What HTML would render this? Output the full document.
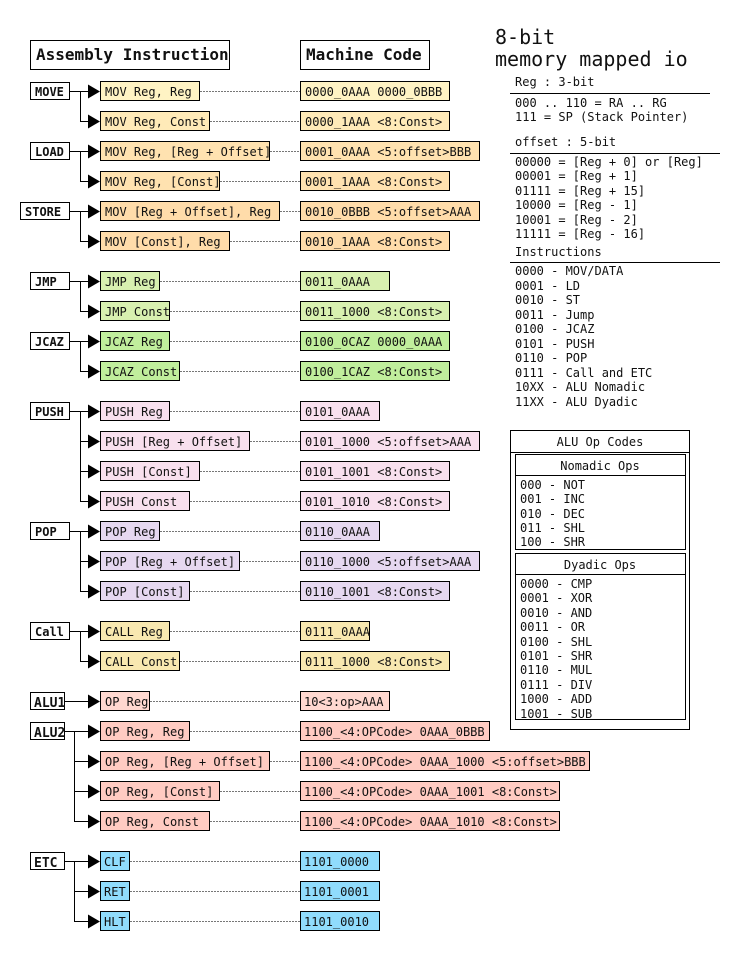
<!DOCTYPE html>
<html><head><meta charset="utf-8"><style>
html,body{margin:0;padding:0;background:#fff;}
svg{display:block;}
text{font-family:"DejaVu Sans Mono","Liberation Mono",monospace;font-size:12px;fill:#111;}
.b{font-weight:bold;}
.h{font-weight:bold;font-size:16px;}
.d{stroke:#777;stroke-width:1;stroke-dasharray:2,1;}
.r{stroke:#000;stroke-width:1;}
</style></head><body>
<svg width="740" height="960" viewBox="0 0 740 960" xmlns="http://www.w3.org/2000/svg">
<defs>
<path id="ar" d="M88,-7 L100,0 L88,7 Z" fill="#000"/>
</defs>
<!-- headers -->
<rect x="30.5" y="40.5" width="199" height="29" fill="#fff" class="r"/>
<text x="36" y="60" class="h">Assembly Instruction</text>
<rect x="300.5" y="40.5" width="129" height="29" fill="#fff" class="r"/>
<text x="306" y="60" class="h">Machine Code</text>

<g id="rows">
<!-- group label boxes -->
<rect x="30.5" y="82.5" width="39" height="17" fill="#fff" class="r"/><text x="35" y="96" class="b">MOVE</text>
<rect x="30.5" y="142.5" width="39" height="17" fill="#fff" class="r"/><text x="35" y="156" class="b">LOAD</text>
<rect x="20.5" y="202.5" width="49" height="17" fill="#fff" class="r"/><text x="25" y="216" class="b">STORE</text>
<rect x="30.5" y="272.5" width="39" height="17" fill="#fff" class="r"/><text x="35" y="286" class="b">JMP</text>
<rect x="30.5" y="332.5" width="39" height="17" fill="#fff" class="r"/><text x="35" y="346" class="b">JCAZ</text>
<rect x="30.5" y="402.5" width="39" height="17" fill="#fff" class="r"/><text x="35" y="416" class="b">PUSH</text>
<rect x="30.5" y="522.5" width="39" height="17" fill="#fff" class="r"/><text x="35" y="536" class="b">POP</text>
<rect x="30.5" y="622.5" width="39" height="17" fill="#fff" class="r"/><text x="35" y="636" class="b">Call</text>
<rect x="30.5" y="692.5" width="34" height="17" fill="#fff" class="r"/><text x="34" y="707" class="b" style="font-size:13px">ALU1</text>
<rect x="30.5" y="722.5" width="34" height="17" fill="#fff" class="r"/><text x="34" y="737" class="b" style="font-size:13px">ALU2</text>
<rect x="30.5" y="852.5" width="34" height="17" fill="#fff" class="r"/><text x="34" y="867" class="b" style="font-size:13px">ETC</text>

<!-- buses -->
<g fill="none" class="r">
<path d="M70,91.5H88 M80.5,91V121.5H88"/>
<path d="M70,151.5H88 M80.5,151V181.5H88"/>
<path d="M70,211.5H88 M80.5,211V241.5H88"/>
<path d="M70,281.5H88 M80.5,281V311.5H88"/>
<path d="M70,341.5H88 M80.5,341V371.5H88"/>
<path d="M70,411.5H88 M80.5,411V501.5H88 M80,441.5H88 M80,471.5H88"/>
<path d="M70,531.5H88 M80.5,531V591.5H88 M80,561.5H88"/>
<path d="M70,631.5H88 M80.5,631V661.5H88"/>
<path d="M65,701.5H88"/>
<path d="M65,731.5H88 M74.5,731V821.5H88 M74,761.5H88 M74,791.5H88"/>
<path d="M65,861.5H88 M74.5,861V921.5H88 M74,891.5H88"/>
</g>
<!-- arrows -->
<g>
<use href="#ar" y="91.5"/><use href="#ar" y="121.5"/><use href="#ar" y="151.5"/><use href="#ar" y="181.5"/>
<use href="#ar" y="211.5"/><use href="#ar" y="241.5"/><use href="#ar" y="281.5"/><use href="#ar" y="311.5"/>
<use href="#ar" y="341.5"/><use href="#ar" y="371.5"/><use href="#ar" y="411.5"/><use href="#ar" y="441.5"/>
<use href="#ar" y="471.5"/><use href="#ar" y="501.5"/><use href="#ar" y="531.5"/><use href="#ar" y="561.5"/>
<use href="#ar" y="591.5"/><use href="#ar" y="631.5"/><use href="#ar" y="661.5"/><use href="#ar" y="701.5"/>
<use href="#ar" y="731.5"/><use href="#ar" y="761.5"/><use href="#ar" y="791.5"/><use href="#ar" y="821.5"/>
<use href="#ar" y="861.5"/><use href="#ar" y="891.5"/><use href="#ar" y="921.5"/>
</g>
<!-- dotted connectors -->
<g class="d">
<path d="M200,91.5H300 M210,121.5H300 M270,151.5H300 M220,181.5H300 M280,211.5H300 M230,241.5H300"/>
<path d="M160,281.5H300 M170,311.5H300 M170,341.5H300 M180,371.5H300"/>
<path d="M170,411.5H300 M250,441.5H300 M200,471.5H300 M190,501.5H300"/>
<path d="M160,531.5H300 M240,561.5H300 M190,591.5H300"/>
<path d="M170,631.5H300 M180,661.5H300"/>
<path d="M150,701.5H300 M190,731.5H300 M270,761.5H300 M220,791.5H300 M210,821.5H300"/>
<path d="M130,861.5H300 M130,891.5H300 M130,921.5H300"/>
</g>
<!-- instruction boxes -->
<g class="r">
<rect x="100.5" y="81.5" width="99" height="19" fill="#fff3c4"/>
<rect x="100.5" y="111.5" width="109" height="19" fill="#ffeab8"/>
<rect x="100.5" y="141.5" width="169" height="19" fill="#ffe2b0"/>
<rect x="100.5" y="171.5" width="119" height="19" fill="#ffe2b0"/>
<rect x="100.5" y="201.5" width="179" height="19" fill="#ffdcaa"/>
<rect x="100.5" y="231.5" width="129" height="19" fill="#ffdcaa"/>
<rect x="100.5" y="271.5" width="59" height="19" fill="#d8f0b0"/>
<rect x="100.5" y="301.5" width="69" height="19" fill="#d8f0b0"/>
<rect x="100.5" y="331.5" width="69" height="19" fill="#c0ee9c"/>
<rect x="100.5" y="361.5" width="79" height="19" fill="#c0ee9c"/>
<rect x="100.5" y="401.5" width="69" height="19" fill="#f8e0ee"/>
<rect x="100.5" y="431.5" width="149" height="19" fill="#f8e0ee"/>
<rect x="100.5" y="461.5" width="99" height="19" fill="#f8e0ee"/>
<rect x="100.5" y="491.5" width="89" height="19" fill="#f8e0ee"/>
<rect x="100.5" y="521.5" width="59" height="19" fill="#e6d8f0"/>
<rect x="100.5" y="551.5" width="139" height="19" fill="#e6d8f0"/>
<rect x="100.5" y="581.5" width="89" height="19" fill="#e6d8f0"/>
<rect x="100.5" y="621.5" width="69" height="19" fill="#f8e8b0"/>
<rect x="100.5" y="651.5" width="79" height="19" fill="#f8e8b0"/>
<rect x="100.5" y="691.5" width="49" height="19" fill="#ffd8d0"/>
<rect x="100.5" y="721.5" width="89" height="19" fill="#ffcbc2"/>
<rect x="100.5" y="751.5" width="169" height="19" fill="#ffcbc2"/>
<rect x="100.5" y="781.5" width="119" height="19" fill="#ffcbc2"/>
<rect x="100.5" y="811.5" width="109" height="19" fill="#ffcbc2"/>
<rect x="100.5" y="851.5" width="29" height="19" fill="#90dcfc"/>
<rect x="100.5" y="881.5" width="29" height="19" fill="#90dcfc"/>
<rect x="100.5" y="911.5" width="29" height="19" fill="#90dcfc"/>
</g>
<g>
<text x="105" y="96">MOV Reg, Reg</text>
<text x="105" y="126">MOV Reg, Const</text>
<text x="105" y="156">MOV Reg, [Reg + Offset]</text>
<text x="105" y="186">MOV Reg, [Const]</text>
<text x="105" y="216">MOV [Reg + Offset], Reg</text>
<text x="105" y="246">MOV [Const], Reg</text>
<text x="105" y="286">JMP Reg</text>
<text x="105" y="316">JMP Const</text>
<text x="105" y="346">JCAZ Reg</text>
<text x="105" y="376">JCAZ Const</text>
<text x="105" y="416">PUSH Reg</text>
<text x="105" y="446">PUSH [Reg + Offset]</text>
<text x="105" y="476">PUSH [Const]</text>
<text x="105" y="506">PUSH Const</text>
<text x="105" y="536">POP Reg</text>
<text x="105" y="566">POP [Reg + Offset]</text>
<text x="105" y="596">POP [Const]</text>
<text x="105" y="636">CALL Reg</text>
<text x="105" y="666">CALL Const</text>
<text x="105" y="706">OP Reg</text>
<text x="105" y="736">OP Reg, Reg</text>
<text x="105" y="766">OP Reg, [Reg + Offset]</text>
<text x="105" y="796">OP Reg, [Const]</text>
<text x="105" y="826">OP Reg, Const</text>
<text x="104" y="866">CLF</text>
<text x="104" y="896">RET</text>
<text x="104" y="926">HLT</text>
</g>
<!-- machine code boxes -->
<g class="r">
<rect x="300.5" y="81.5" width="149" height="19" fill="#fff3c4"/>
<rect x="300.5" y="111.5" width="149" height="19" fill="#ffeab8"/>
<rect x="300.5" y="141.5" width="179" height="19" fill="#ffe2b0"/>
<rect x="300.5" y="171.5" width="149" height="19" fill="#ffe2b0"/>
<rect x="300.5" y="201.5" width="179" height="19" fill="#ffdcaa"/>
<rect x="300.5" y="231.5" width="149" height="19" fill="#ffdcaa"/>
<rect x="300.5" y="271.5" width="89" height="19" fill="#d8f0b0"/>
<rect x="300.5" y="301.5" width="149" height="19" fill="#d8f0b0"/>
<rect x="300.5" y="331.5" width="149" height="19" fill="#c0ee9c"/>
<rect x="300.5" y="361.5" width="149" height="19" fill="#c0ee9c"/>
<rect x="300.5" y="401.5" width="79" height="19" fill="#f8e0ee"/>
<rect x="300.5" y="431.5" width="179" height="19" fill="#f8e0ee"/>
<rect x="300.5" y="461.5" width="149" height="19" fill="#f8e0ee"/>
<rect x="300.5" y="491.5" width="149" height="19" fill="#f8e0ee"/>
<rect x="300.5" y="521.5" width="79" height="19" fill="#e6d8f0"/>
<rect x="300.5" y="551.5" width="179" height="19" fill="#e6d8f0"/>
<rect x="300.5" y="581.5" width="149" height="19" fill="#e6d8f0"/>
<rect x="300.5" y="621.5" width="69" height="19" fill="#f8e8b0"/>
<rect x="300.5" y="651.5" width="149" height="19" fill="#f8e8b0"/>
<rect x="300.5" y="691.5" width="89" height="19" fill="#ffd8d0"/>
<rect x="300.5" y="721.5" width="189" height="19" fill="#ffcbc2"/>
<rect x="300.5" y="751.5" width="289" height="19" fill="#ffcbc2"/>
<rect x="300.5" y="781.5" width="259" height="19" fill="#ffcbc2"/>
<rect x="300.5" y="811.5" width="259" height="19" fill="#ffcbc2"/>
<rect x="300.5" y="851.5" width="79" height="19" fill="#90dcfc"/>
<rect x="300.5" y="881.5" width="79" height="19" fill="#90dcfc"/>
<rect x="300.5" y="911.5" width="79" height="19" fill="#90dcfc"/>
</g>
<g>
<text x="305" y="96">0000_0AAA 0000_0BBB</text>
<text x="305" y="126">0000_1AAA &lt;8:Const&gt;</text>
<text x="305" y="156">0001_0AAA &lt;5:offset&gt;BBB</text>
<text x="305" y="186">0001_1AAA &lt;8:Const&gt;</text>
<text x="305" y="216">0010_0BBB &lt;5:offset&gt;AAA</text>
<text x="305" y="246">0010_1AAA &lt;8:Const&gt;</text>
<text x="305" y="286">0011_0AAA</text>
<text x="305" y="316">0011_1000 &lt;8:Const&gt;</text>
<text x="305" y="346">0100_0CAZ 0000_0AAA</text>
<text x="305" y="376">0100_1CAZ &lt;8:Const&gt;</text>
<text x="305" y="416">0101_0AAA</text>
<text x="305" y="446">0101_1000 &lt;5:offset&gt;AAA</text>
<text x="305" y="476">0101_1001 &lt;8:Const&gt;</text>
<text x="305" y="506">0101_1010 &lt;8:Const&gt;</text>
<text x="305" y="536">0110_0AAA</text>
<text x="305" y="566">0110_1000 &lt;5:offset&gt;AAA</text>
<text x="305" y="596">0110_1001 &lt;8:Const&gt;</text>
<text x="305" y="636">0111_0AAA</text>
<text x="305" y="666">0111_1000 &lt;8:Const&gt;</text>
<text x="304" y="706">10&lt;3:op&gt;AAA</text>
<text x="304" y="736">1100_&lt;4:OPCode&gt; 0AAA_0BBB</text>
<text x="304" y="766">1100_&lt;4:OPCode&gt; 0AAA_1000 &lt;5:offset&gt;BBB</text>
<text x="304" y="796">1100_&lt;4:OPCode&gt; 0AAA_1001 &lt;8:Const&gt;</text>
<text x="304" y="826">1100_&lt;4:OPCode&gt; 0AAA_1010 &lt;8:Const&gt;</text>
<text x="304" y="866">1101_0000</text>
<text x="304" y="896">1101_0001</text>
<text x="304" y="926">1101_0010</text>
</g>
</g>

<!-- right notes -->
<text x="495" y="44" style="font-size:20px">8-bit</text>
<text x="495" y="66" style="font-size:20px">memory mapped io</text>
<text x="515" y="86">Reg : 3-bit</text>
<line x1="510" y1="93.5" x2="710" y2="93.5" class="r"/>
<text x="515" y="107">000 .. 110 = RA .. RG</text>
<text x="515" y="121">111 = SP (Stack Pointer)</text>
<text x="515" y="146">offset : 5-bit</text>
<line x1="510" y1="153.5" x2="720" y2="153.5" class="r"/>
<text x="515" y="166">00000 = [Reg + 0] or [Reg]</text>
<text x="515" y="180">00001 = [Reg + 1]</text>
<text x="515" y="195">01111 = [Reg + 15]</text>
<text x="515" y="209">10000 = [Reg - 1]</text>
<text x="515" y="224">10001 = [Reg - 2]</text>
<text x="515" y="238">11111 = [Reg - 16]</text>
<text x="515" y="256">Instructions</text>
<line x1="510" y1="262.5" x2="720" y2="262.5" class="r"/>
<text x="515" y="275">0000 - MOV/DATA</text>
<text x="515" y="290">0001 - LD</text>
<text x="515" y="304">0010 - ST</text>
<text x="515" y="319">0011 - Jump</text>
<text x="515" y="333">0100 - JCAZ</text>
<text x="515" y="348">0101 - PUSH</text>
<text x="515" y="362">0110 - POP</text>
<text x="515" y="377">0111 - Call and ETC</text>
<text x="515" y="391">10XX - ALU Nomadic</text>
<text x="515" y="406">11XX - ALU Dyadic</text>

<!-- ALU box -->
<rect x="510.5" y="430.5" width="179" height="299" fill="#fff" class="r"/>
<text x="600" y="446" text-anchor="middle">ALU Op Codes</text>
<line x1="510" y1="452.5" x2="690" y2="452.5" class="r"/>
<rect x="515.5" y="454.5" width="170" height="95" fill="#fff" class="r"/>
<text x="600" y="470" text-anchor="middle">Nomadic Ops</text>
<line x1="515" y1="475.5" x2="686" y2="475.5" class="r"/>
<text x="520" y="489">000 - NOT</text>
<text x="520" y="503">001 - INC</text>
<text x="520" y="518">010 - DEC</text>
<text x="520" y="532">011 - SHL</text>
<text x="520" y="546">100 - SHR</text>
<rect x="515.5" y="553.5" width="170" height="166" fill="#fff" class="r"/>
<text x="600" y="569" text-anchor="middle">Dyadic Ops</text>
<line x1="515" y1="574.5" x2="686" y2="574.5" class="r"/>
<text x="520" y="588">0000 - CMP</text>
<text x="520" y="602">0001 - XOR</text>
<text x="520" y="617">0010 - AND</text>
<text x="520" y="631">0011 - OR</text>
<text x="520" y="646">0100 - SHL</text>
<text x="520" y="660">0101 - SHR</text>
<text x="520" y="674">0110 - MUL</text>
<text x="520" y="689">0111 - DIV</text>
<text x="520" y="703">1000 - ADD</text>
<text x="520" y="718">1001 - SUB</text>
</svg>
</body></html>
